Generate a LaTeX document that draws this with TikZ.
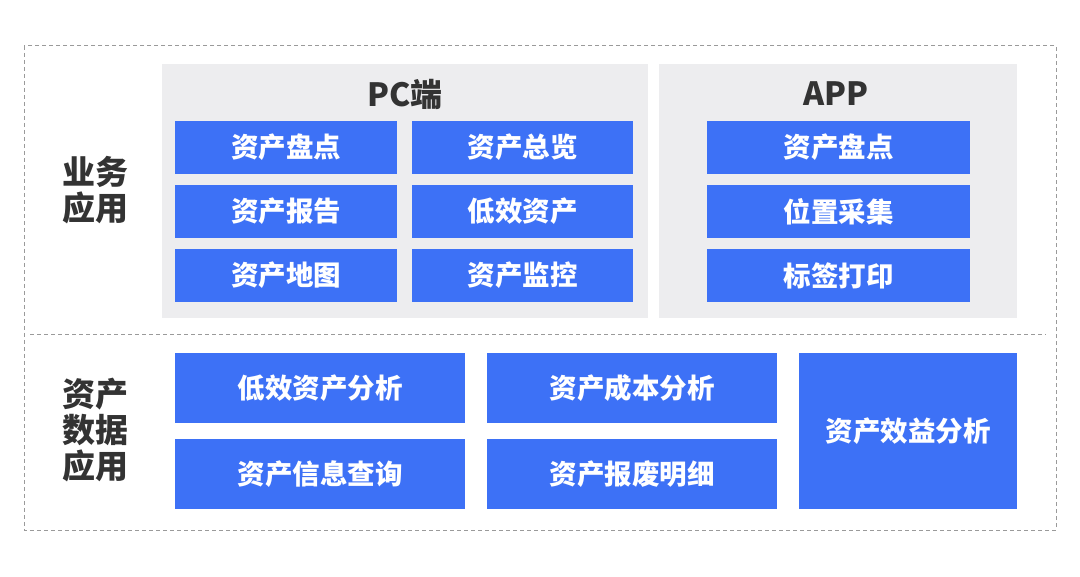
\documentclass[tikz,border=0pt]{standalone}
\usepackage{fontspec}
\newfontfamily\cjk{Noto Sans CJK SC}
\usepackage{tikz}
\usetikzlibrary{positioning}
\definecolor{boxblue}{HTML}{3D71F6}
\definecolor{panelgrey}{HTML}{EDEDEF}
\definecolor{txtdark}{HTML}{333333}
\definecolor{dashgrey}{HTML}{9A9A9A}

\begin{document}
\begin{tikzpicture}[
		x=1pt, y=-1pt
		,every node/.append style={inner sep=0pt, font=\cjk\bfseries}
		,blk/.style 2 args={fill=boxblue, text=white, minimum width=#1pt, minimum height=#2pt, font=\cjk\bfseries\fontsize{27.5}{27.5}\selectfont}
		,pnl/.style 2 args={fill=panelgrey, minimum width=#1pt, minimum height=#2pt}
		,ttl/.style={text=txtdark, font=\cjk\bfseries\fontsize{32}{32}\selectfont}
		,lbl/.style={text=txtdark, align=center, font=\cjk\bfseries\fontsize{33}{36}\selectfont}
		,frame/.style={draw=dashgrey, line width=1pt, dash pattern=on 4pt off 3pt}
	]
		\useasboundingbox (0,0) rectangle (1080,577);
		% outer frame and divider
		\draw [frame] (24,46) rectangle (1056,530);
		\coordinate (divL) at (30,335);
		\coordinate (divR) at (1046,335);
		\draw [frame] (divL) -- (divR);

		% business layer
		\node [lbl] (biz) at (95,190) {业务\\应用};
		\node [pnl={486}{254}] (pc) at (405,191) {};
		\node [pnl={358}{254}] (app) at (838,191) {};
		\node [ttl] (pcT) at (405,94) {PC端};
		\node [ttl] (appT) at (836,94) {APP};

		\node [blk={222}{53}] (pc1) at (286,147.5) {资产盘点};
		\node [blk={221}{53}] (pc2) at (522.5,147.5) {资产总览};
		\node [blk={222}{53}] (pc3) at (286,211.5) {资产报告};
		\node [blk={221}{53}] (pc4) at (522.5,211.5) {低效资产};
		\node [blk={222}{53}] (pc5) at (286,275.5) {资产地图};
		\node [blk={221}{53}] (pc6) at (522.5,275.5) {资产监控};

		\node [blk={263}{53}] (app1) at (838.5,147.5) {资产盘点};
		\node [blk={263}{53}] (app2) at (838.5,211.5) {位置采集};
		\node [blk={263}{53}] (app3) at (838.5,275.5) {标签打印};

		% data layer
		\node [lbl] (data) at (95,430) {资产\\数据\\应用};
		\node [blk={290}{70}] (d1) at (320,388) {低效资产分析};
		\node [blk={290}{70}] (d2) at (632,388) {资产成本分析};
		\node [blk={290}{70}] (d3) at (320,474) {资产信息查询};
		\node [blk={290}{70}] (d4) at (632,474) {资产报废明细};
		\node [blk={218}{156}] (d5) at (908,431) {资产效益分析};
	\end{tikzpicture}
\end{document}
